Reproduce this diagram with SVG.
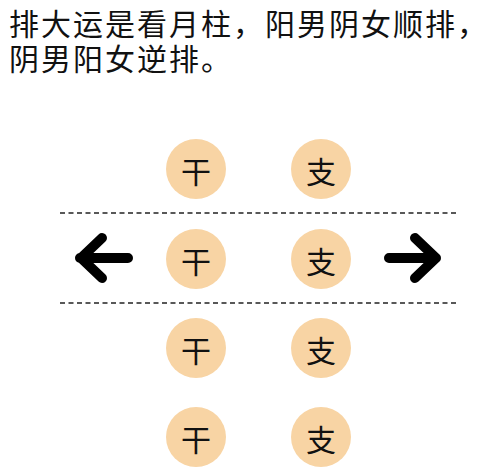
<svg xmlns="http://www.w3.org/2000/svg" width="499" height="475" viewBox="0 0 499 475">
  <style>
    .title { font-family: "Noto Sans CJK SC", sans-serif; font-size: 30px; letter-spacing: 2px; fill: #111; }
    .node circle { fill: #F8D4A4; }
    .node text { font-family: "Noto Sans CJK SC", sans-serif; font-size: 30px; fill: #111; text-anchor: middle; }
    .dash { stroke: #222; stroke-width: 1.5; stroke-dasharray: 5 3.5; fill: none; }
    .arrow { stroke: #000; stroke-width: 10; stroke-linecap: round; stroke-linejoin: round; fill: none; }
  </style>
  <rect width="499" height="475" fill="#fff"/>
  <text class="title" x="9" y="35">排大运是看月柱，阳男阴女顺排，</text>
  <text class="title" x="9" y="70">阴男阳女逆排。</text>

  <g id="connectors">
    <line class="dash" x1="60" y1="213" x2="456" y2="213"/>
    <line class="dash" x1="60" y1="303" x2="456" y2="303"/>
    <path class="arrow" d="M128 258 H80 M102 238 L81 258 L102 278"/>
    <path class="arrow" d="M389 258 H436 M415 238 L436 258 L415 278"/>
  </g>

  <g id="gan1" class="node"><circle cx="196" cy="169" r="30"/><text x="196" y="183">干</text></g>
  <g id="zhi1" class="node"><circle cx="321" cy="169" r="30"/><text x="321" y="183">支</text></g>
  <g id="gan2" class="node"><circle cx="196" cy="259" r="30"/><text x="196" y="273">干</text></g>
  <g id="zhi2" class="node"><circle cx="321" cy="259" r="30"/><text x="321" y="273">支</text></g>
  <g id="gan3" class="node"><circle cx="196" cy="348" r="30"/><text x="196" y="362">干</text></g>
  <g id="zhi3" class="node"><circle cx="321" cy="348" r="30"/><text x="321" y="362">支</text></g>
  <g id="gan4" class="node"><circle cx="196" cy="437" r="30"/><text x="196" y="451">干</text></g>
  <g id="zhi4" class="node"><circle cx="321" cy="437" r="30"/><text x="321" y="451">支</text></g>
</svg>
